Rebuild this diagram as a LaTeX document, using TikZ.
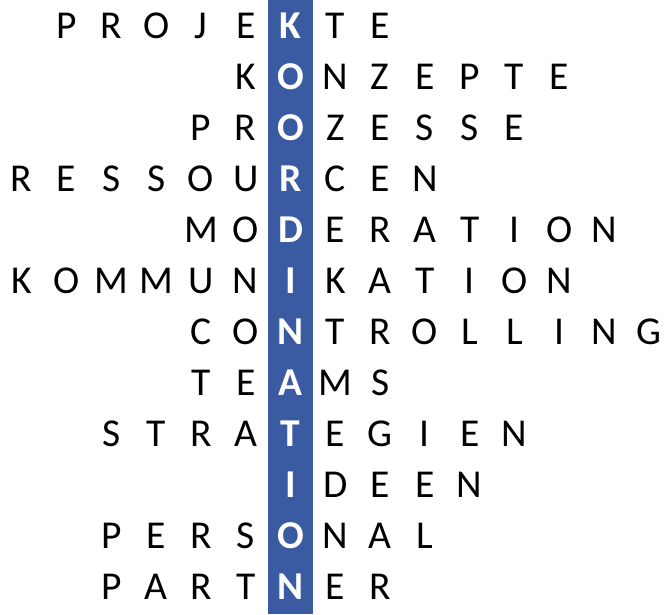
\documentclass[tikz,border=0pt]{standalone}
\usepackage{fontspec}
\setmainfont{Carlito}
\definecolor{colblue}{HTML}{3A5BA2}
\tikzset{
  letter/.style={inner sep=0pt, anchor=base, text=black, font=\fontsize{39.5}{44}\selectfont},
  hlletter/.style={letter, text=white, font=\fontsize{39.5}{44}\selectfont\bfseries},
  colbox/.style={fill=colblue, draw=none}
}
% #1 row number, #2 start column (relative to highlighted column), #3 letters, #4 index of highlighted letter
\newcommand\puzzleword[4]{%
  \foreach \L [count=\i] in {#3} {%
    \pgfmathsetmacro\cx{290.5+44.8*(#2+\i-1)}%
    \pgfmathsetmacro\cy{38.5+51*(#1-1)}%
    \ifnum\i=#4\relax
      \node[hlletter] (l-#1-\i) at (\cx,\cy) {\L};
    \else
      \node[letter] (l-#1-\i) at (\cx,\cy) {\L};
    \fi
  }%
}
\begin{document}
\begin{tikzpicture}[x=1pt,y=-1pt]
\useasboundingbox (0,0) rectangle (669,614);
\fill[colbox] (268,0) rectangle (313,614);
\puzzleword{1}{-5}{P,R,O,J,E,K,T,E}{6}
\puzzleword{2}{-1}{K,O,N,Z,E,P,T,E}{2}
\puzzleword{3}{-2}{P,R,O,Z,E,S,S,E}{3}
\puzzleword{4}{-6}{R,E,S,S,O,U,R,C,E,N}{7}
\puzzleword{5}{-2}{M,O,D,E,R,A,T,I,O,N}{3}
\puzzleword{6}{-6}{K,O,M,M,U,N,I,K,A,T,I,O,N}{7}
\puzzleword{7}{-2}{C,O,N,T,R,O,L,L,I,N,G}{3}
\puzzleword{8}{-2}{T,E,A,M,S}{3}
\puzzleword{9}{-4}{S,T,R,A,T,E,G,I,E,N}{5}
\puzzleword{10}{0}{I,D,E,E,N}{1}
\puzzleword{11}{-4}{P,E,R,S,O,N,A,L}{5}
\puzzleword{12}{-4}{P,A,R,T,N,E,R}{5}
\end{tikzpicture}
\end{document}
